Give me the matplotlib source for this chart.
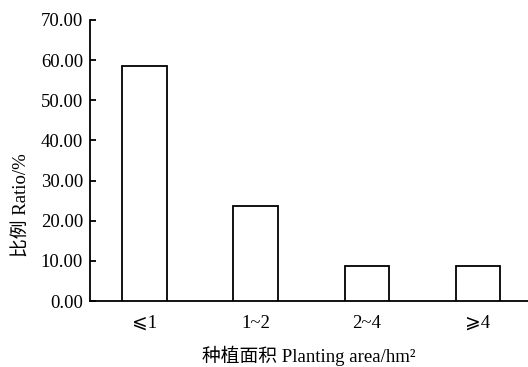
import matplotlib
matplotlib.use("Agg")
import matplotlib.pyplot as plt

plt.rcParams['font.family'] = ['Liberation Serif', 'Noto Sans CJK SC', 'DejaVu Sans']

categories = ["⩽1", "1~2", "2~4", "⩾4"]
values = [58.6, 23.6, 8.8, 8.8]
yticks = [0, 10, 20, 30, 40, 50, 60, 70]

fig = plt.figure(figsize=(5.28, 3.67), dpi=100)
ax = fig.add_axes([90/528, 1-301/367, 1-90/528, (301-20)/367])

x = list(range(len(categories)))
ax.bar(x, values, width=0.4, color='white', edgecolor='black', linewidth=1.3, zorder=3)

ax.set_xlim(-0.49, 3.45)
ax.set_ylim(0, 70)
ax.set_yticks(yticks)
ax.set_yticklabels([f"{v:.2f}" for v in yticks])
ax.set_xticks(x)
ax.set_xticklabels(categories)

for s in ['top', 'right']:
    ax.spines[s].set_visible(False)
for s in ['left', 'bottom']:
    ax.spines[s].set_linewidth(1.3)

ax.tick_params(axis='y', direction='in', length=4, width=1.3, labelsize=13.5, pad=5)
ax.tick_params(axis='x', length=0, labelsize=13.5, pad=10)

ax.set_xlabel("种植面积 Planting area/hm²", fontsize=13.5)
ax.set_ylabel("比例 Ratio/%", fontsize=13.5)
ax.yaxis.set_label_coords(-0.135, 0.34)
ax.xaxis.set_label_coords(0.5, -(356 - 301) / 281)
ax.xaxis.label.set_va('center')

fig.savefig("out.png", dpi=100)
